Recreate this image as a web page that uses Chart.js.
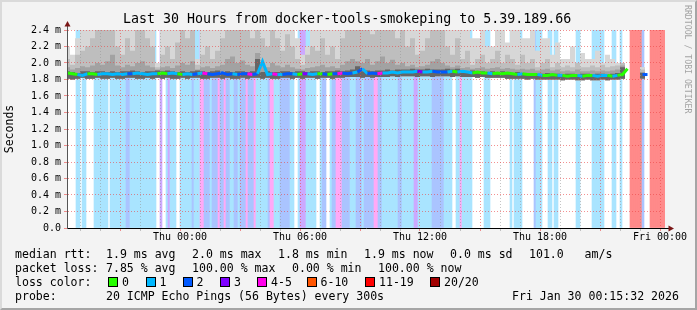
<!DOCTYPE html>
<html>
<head>
<meta charset="utf-8">
<title>smokeping</title>
<script src="https://cdn.jsdelivr.net/npm/chart.js@4.4.1/dist/chart.umd.min.js"></script>
<style>
  html, body { margin: 0; padding: 0; }
  body { width: 697px; height: 310px; background: #f3f3f3; position: relative; overflow: hidden;
         font-family: 'DejaVu Sans Mono', monospace; color: #000; }
  #wrap { position: absolute; left: 0; top: 0; width: 697px; height: 310px; }
  .frame { position: absolute; left: 0; top: 0; width: 697px; height: 310px; box-sizing: border-box;
           border: 2px solid; border-color: #dadada #a5a5a5 #a5a5a5 #dadada; pointer-events: none; }
  .title { position: absolute; left: 123px; top: 11px; font-size: 13.3px; line-height: 16px; white-space: pre; }
  .mark { position: absolute; top: 5px; left: 683px; writing-mode: vertical-rl; font-size: 8.2px;
          line-height: 10px; color: #a3a3a3; white-space: pre; }
  .txt { position: absolute; white-space: pre; font-size: 11.55px; line-height: 14px; }
  .box { position: absolute; width: 8px; height: 8px; border: 1px solid #000; top: 276.5px; }
</style>
</head>
<body>
<div id="wrap"><canvas id="myChart" width="697" height="310"></canvas></div>
<div class="frame"></div>
<div class="title">Last 30 Hours from docker-tools-smokeping to 5.39.189.66</div>
<div class="mark">RRDTOOL / TOBI OETIKER</div>
<div id="legend"></div>
<script>
// loss per 6 minute bucket, one string per 3 hours starting Wed 18:00
// . = 0, a = 1, b = 2, c = 3, d = 4-5, r = 20/20
const lossRows = [
  '........aa.aa....aaaaaaa.aaaaa',
  'aaabbaaaaaaaaaaaaa..c..acaaa..',
  'aaaaaabaaaddbbbabbbdbbdbbaabba',
  'bbbdbbbdaaaaaabddaaabbbbbaa..a',
  'cccaaaaa..abb..abbdddbbbbaaabb',
  'babbbbbddbbaaaaaaaabbaaaaaacca',
  'aaaaaabbbbbbaaaa..aadaaaaa....',
  '..aaa..........a.aaaa......baa',
  'a...aa.aa.........aa......aaaa',
  'aa....aa..a....rrrrrrb...rrrrr',
  'rrr'
];
const lossRowStart = -6;   // hours from Thu 00:00
const lossBucket = 0.1;    // hours

// smoke and median, one value per 15 minutes starting Wed 18:15 (ms)
const smokeStart = -5.75;
const smokeStep = 0.25;
const median = [
  1.88, 1.87, 1.86, 1.85, 1.87, 1.87, 1.86, 1.87, 1.87, 1.86,
  1.87, 1.86, 1.87, 1.87, 1.88, 1.87, 1.86, 1.87, 1.87, 1.88,
  1.87, 1.88, 1.87, 1.86, 1.87, 1.86, 1.87, 1.88, 1.87, 1.86,
  1.87, 1.88, 1.86, 1.87, 1.86, 1.87, 1.87, 1.86, 1.87, 2.02,
  1.86, 1.87, 1.86, 1.86, 1.87, 1.87, 1.86, 1.87, 1.87, 1.86,
  1.87, 1.87, 1.86, 1.87, 1.87, 1.88, 1.87, 1.88, 1.89, 1.93,
  1.87, 1.88, 1.87, 1.88, 1.88, 1.89, 1.88, 1.89, 1.89, 1.89,
  1.90, 1.89, 1.89, 1.90, 1.89, 1.89, 1.89, 1.90, 1.89, 1.90,
  1.89, 1.88, 1.89, 1.88, 1.88, 1.87, 1.88, 1.87, 1.88, 1.87,
  1.86, 1.87, 1.86, 1.86, 1.86, 1.85, 1.85, 1.86, 1.85, 1.85,
  1.84, 1.85, 1.85, 1.84, 1.85, 1.85, 1.84, 1.85, 1.85, 1.84,
  1.85, 1.86, 1.93, null, null, 1.86, 1.86, null, null, null
];
const smokeMax = [
  2.15, 2.2, 2.1, 2.3, 2.45, 2.5, 2.5, 2.5, 2.5, 2.5,
  2.5, 2.5, 2.5, 2.5, 2.5, 2.5, 2.5, 2.4, 2.5, 2.0,
  2.5, 2.5, 2.5, 2.5, 2.5, 2.5, 2.5, 2.05, 2.5, 2.5,
  2.5, 2.5, 2.5, 2.5, 2.5, 2.5, 2.5, 2.5, 2.5, 2.5,
  2.5, 2.5, 2.5, 2.5, 2.5, 2.5, 2.5, 2.3, 2.1, 2.2,
  2.5, 2.5, 2.5, 2.5, 2.5, 2.5, 2.5, 2.5, 2.5, 2.5,
  2.5, 2.5, 2.5, 2.5, 2.5, 2.5, 2.5, 2.5, 2.5, 2.5,
  2.5, 2.5, 2.5, 2.5, 2.5, 2.5, 2.5, 2.5, 2.5, 2.5,
  2.45, 2.4, 2.3, 2.3, 2.45, 2.2, 2.2, 2.45, 2.45, 2.25,
  2.4, 2.4, 2.3, 2.3, 2.45, 2.15, 2.3, 2.3, 2.1, 2.25,
  2.05, 2.05, 2.2, 2.0, 2.12, 2.05, 2.05, 2.15, 2.0, 2.1,
  2.05, 2.0, 2.0, null, null, 1.95, 1.95, null, null, null
];
const smokeHigh = [
  2.0, 2.05, 1.98, 2.1, 2.15, 2.2, 2.3, 2.5, 2.5, 2.5,
  2.5, 2.2, 2.1, 2.3, 2.15, 2.45, 2.45, 2.3, 2.2, 1.95,
  2.1, 2.2, 2.05, 2.25, 2.4, 2.3, 2.45, 1.98, 2.1, 2.2,
  2.05, 2.15, 2.3, 2.5, 2.5, 2.45, 2.5, 2.4, 2.3, 2.5,
  2.3, 2.2, 2.4, 2.3, 2.15, 2.35, 2.2, 2.05, 1.98, 2.1,
  2.2, 2.15, 2.3, 2.1, 2.2, 2.05, 2.3, 2.45, 2.5, 2.5,
  2.4, 2.5, 2.35, 2.45, 2.5, 2.4, 2.5, 2.3, 2.45, 2.2,
  2.3, 2.1, 2.15, 2.3, 2.45, 2.5, 2.4, 2.2, 2.1, 2.3,
  2.05, 2.15, 1.98, 2.05, 2.1, 2.0, 2.05, 2.15, 2.0, 2.1,
  2.05, 1.98, 2.1, 2.0, 2.05, 1.95, 2.0, 2.05, 1.95, 2.0,
  1.95, 1.97, 1.95, 2.0, 1.95, 1.95, 1.97, 1.95, 1.98, 1.95,
  1.96, 1.97, 2.0, null, null, 1.92, 1.92, null, null, null
];
const smokeDark = [
  1.93, 1.95, 1.92, 1.94, 1.96, 1.95, 1.97, 2.0, 1.98, 2.02,
  2.1, 1.97, 1.95, 1.98, 1.96, 2.0, 2.02, 1.97, 1.95, 1.92,
  1.95, 1.96, 1.94, 1.97, 2.0, 1.98, 2.02, 1.92, 1.95, 1.96,
  1.94, 1.96, 1.98, 2.05, 2.08, 2.0, 2.03, 1.98, 1.96, 2.12,
  1.97, 1.95, 2.0, 1.97, 1.95, 1.98, 1.95, 1.93, 1.92, 1.94,
  1.95, 1.96, 1.98, 1.95, 1.96, 1.94, 1.98, 2.02, 2.05, 2.02,
  2.0, 2.05, 1.98, 2.02, 2.08, 2.0, 2.04, 1.98, 2.0, 1.96,
  1.98, 1.95, 1.96, 1.98, 2.02, 2.05, 2.0, 1.97, 1.95, 1.97,
  1.94, 1.95, 1.93, 1.94, 1.95, 1.93, 1.94, 1.95, 1.93, 1.94,
  1.93, 1.92, 1.93, 1.92, 1.93, 1.91, 1.92, 1.93, 1.91, 1.92,
  1.9, 1.91, 1.9, 1.92, 1.9, 1.9, 1.91, 1.9, 1.91, 1.9,
  1.91, 1.92, 1.97, null, null, 1.89, 1.89, null, null, null
];
const smokeCore = [
  1.91, 1.9, 1.89, 1.88, 1.9, 1.9, 1.89, 1.9, 1.9, 1.89,
  1.9, 1.89, 1.9, 1.9, 1.91, 1.9, 1.89, 1.9, 1.9, 1.91,
  1.9, 1.91, 1.9, 1.89, 1.9, 1.89, 1.9, 1.91, 1.9, 1.89,
  1.9, 1.91, 1.89, 1.9, 1.89, 1.9, 1.9, 1.89, 1.9, 2.05,
  1.89, 1.9, 1.89, 1.89, 1.9, 1.9, 1.89, 1.9, 1.9, 1.89,
  1.9, 1.9, 1.89, 1.9, 1.9, 1.91, 1.9, 1.91, 1.92, 1.96,
  1.9, 1.91, 1.9, 1.91, 1.91, 1.92, 1.91, 1.92, 1.92, 1.92,
  1.93, 1.92, 1.92, 1.93, 1.92, 1.92, 1.92, 1.93, 1.92, 1.93,
  1.91, 1.9, 1.91, 1.9, 1.9, 1.89, 1.9, 1.89, 1.9, 1.89,
  1.88, 1.89, 1.88, 1.88, 1.88, 1.87, 1.87, 1.88, 1.87, 1.87,
  1.86, 1.87, 1.87, 1.86, 1.87, 1.87, 1.86, 1.87, 1.87, 1.86,
  1.87, 1.88, 1.95, null, null, 1.88, 1.88, null, null, null
];
const smokeMin = [
  1.82, 1.81, 1.8, 1.81, 1.82, 1.81, 1.81, 1.82, 1.81, 1.81,
  1.82, 1.81, 1.81, 1.82, 1.82, 1.81, 1.81, 1.82, 1.81, 1.82,
  1.81, 1.82, 1.81, 1.81, 1.82, 1.81, 1.82, 1.82, 1.81, 1.81,
  1.82, 1.82, 1.81, 1.82, 1.81, 1.81, 1.82, 1.81, 1.82, 1.82,
  1.81, 1.82, 1.81, 1.81, 1.82, 1.82, 1.81, 1.82, 1.81, 1.82,
  1.82, 1.81, 1.82, 1.82, 1.81, 1.82, 1.82, 1.83, 1.83, 1.83,
  1.82, 1.83, 1.82, 1.83, 1.83, 1.83, 1.84, 1.83, 1.84, 1.84,
  1.84, 1.83, 1.84, 1.84, 1.83, 1.84, 1.84, 1.84, 1.83, 1.84,
  1.83, 1.83, 1.83, 1.82, 1.83, 1.82, 1.82, 1.82, 1.82, 1.81,
  1.81, 1.81, 1.81, 1.8, 1.81, 1.8, 1.8, 1.8, 1.8, 1.8,
  1.79, 1.8, 1.8, 1.79, 1.79, 1.8, 1.79, 1.79, 1.8, 1.79,
  1.8, 1.8, 1.81, null, null, 1.81, 1.81, null, null, null
];

const xTickHours = [0, 6, 12, 18, 24];
const xTickLabels = ['Thu 00:00', 'Thu 06:00', 'Thu 12:00', 'Thu 18:00', 'Fri 00:00'];

const lossNames = ['0', '1', '2', '3', '4-5', '6-10', '11-19', '20/20'];
const lossColors = ['#26ff00', '#00b8ff', '#0059ff', '#7e00ff', '#ff00ea', '#ff5500', '#ff0000', '#a10000'];
const codeColor = { '.': '#26ff00', a: '#00b8ff', b: '#0059ff', c: '#7e00ff', d: '#ff00ea', r: '#a10000' };
const stripeColor = { a: '#a9e4ff', b: '#aac4ff', c: '#cca9ff', d: '#ffa9f6', r: '#ff8a8a' };

const statLines = [
  [[15, 'median rtt:'], [106, '1.9 ms avg'], [192, '2.0 ms max'], [278, '1.8 ms min'], [364, '1.9 ms now'], [450, '0.0 ms sd'], [529, '101.0   am/s']],
  [[15, 'packet loss:'], [106, '7.85 % avg'], [192, '100.00 % max'], [292, '0.00 % min'], [378, '100.00 % now']],
  [[15, 'loss color:']],
  [[15, 'probe:'], [106, '20 ICMP Echo Pings (56 Bytes) every 300s'], [512, 'Fri Jan 30 00:15:32 2026']]
];
const statTops = [247, 261, 275, 289];
const boxLefts = [108, 145.5, 182.5, 220, 257, 306.5, 365, 430];

// legend below the plot
const legend = document.getElementById('legend');
statLines.forEach((line, r) => {
  line.forEach(([x, s]) => {
    const d = document.createElement('div');
    d.className = 'txt';
    d.style.left = x + 'px';
    d.style.top = statTops[r] + 'px';
    d.textContent = s;
    legend.appendChild(d);
  });
});
lossNames.forEach((name, i) => {
  const b = document.createElement('div');
  b.className = 'box';
  b.style.left = boxLefts[i] + 'px';
  b.style.background = lossColors[i];
  legend.appendChild(b);
  const t = document.createElement('div');
  t.className = 'txt';
  t.style.left = (boxLefts[i] + 14) + 'px';
  t.style.top = statTops[2] + 'px';
  t.textContent = name;
  legend.appendChild(t);
});

function lossAt(h) {
  const off = h - lossRowStart;
  const r = Math.floor(off / 3);
  const i = Math.floor((off - r * 3) / lossBucket + 1e-6);
  const row = lossRows[r] || '';
  return row[i] || '.';
}

const stripeData = [];
const stripeColors = [];
lossRows.forEach((row, r) => {
  row.split('').forEach((c, i) => {
    const x = lossRowStart + r * 3 + (i + 0.5) * lossBucket;
    stripeData.push({ x: x, y: c === '.' ? null : 2.4 });
    stripeColors.push(stripeColor[c] || 'rgba(0,0,0,0)');
  });
});

const toPoints = (arr, shift) => arr.map((v, k) => ({ x: smokeStart + smokeStep * k + shift, y: v }));

const majorGrid = 'rgba(235,70,70,0.6)';
const minorGrid = 'rgba(150,150,150,0.55)';

const plotBackground = {
  id: 'plotBackground',
  beforeDraw(chart) {
    const { ctx, chartArea: a } = chart;
    ctx.save();
    ctx.fillStyle = '#ffffff';
    ctx.fillRect(a.left, a.top, a.right - a.left, a.bottom - a.top);
    ctx.restore();
  }
};

const axisArrows = {
  id: 'axisArrows',
  afterDraw(chart) {
    const { ctx, chartArea: a } = chart;
    ctx.save();
    ctx.strokeStyle = '#555';
    ctx.lineWidth = 1;
    ctx.beginPath();
    ctx.moveTo(a.left + 0.5, a.top);
    ctx.lineTo(a.left + 0.5, a.top - 5);
    ctx.stroke();
    ctx.strokeStyle = '#000';
    ctx.beginPath();
    ctx.moveTo(a.right, a.bottom + 0.5);
    ctx.lineTo(a.right + 4, a.bottom + 0.5);
    ctx.stroke();
    ctx.fillStyle = '#7a1616';
    ctx.beginPath();
    ctx.moveTo(a.left + 0.5, a.top - 9);
    ctx.lineTo(a.left - 2.5, a.top - 3.5);
    ctx.lineTo(a.left + 3.5, a.top - 3.5);
    ctx.closePath();
    ctx.fill();
    ctx.beginPath();
    ctx.moveTo(a.right + 9, a.bottom + 0.5);
    ctx.lineTo(a.right + 3.5, a.bottom - 2.5);
    ctx.lineTo(a.right + 3.5, a.bottom + 3.5);
    ctx.closePath();
    ctx.fill();
    ctx.restore();
  }
};

Chart.defaults.font.family = "'DejaVu Sans Mono', monospace";
Chart.defaults.color = '#000';

const smokeLayer = (label, arr, color, order) => ({
  type: 'line',
  label: label,
  data: toPoints(arr, 0),
  stepped: 'after',
  borderWidth: 0,
  pointRadius: 0,
  backgroundColor: color,
  fill: 5,
  order: order
});

const ctx = document.getElementById('myChart');

new Chart(ctx, {
  data: {
    datasets: [
      {
        type: 'line',
        label: 'median rtt',
        data: toPoints(median, smokeStep / 2),
        borderWidth: 3,
        pointRadius: 0,
        spanGaps: false,
        fill: false,
        borderColor: '#26ff00',
        segment: { borderColor: (c) => codeColor[lossAt(c.p0.parsed.x)] },
        order: 0
      },
      smokeLayer('smoke core', smokeCore, '#666666', 4),
      smokeLayer('smoke dark', smokeDark, '#a2a2a2', 5),
      smokeLayer('smoke high', smokeHigh, '#bebebe', 6),
      smokeLayer('smoke max', smokeMax, '#d7d7d7', 7),
      {
        type: 'line',
        label: 'smoke min',
        data: toPoints(smokeMin, 0),
        stepped: 'after',
        borderWidth: 0,
        pointRadius: 0,
        fill: false,
        order: 8
      },
      {
        type: 'bar',
        label: 'loss',
        data: stripeData,
        backgroundColor: stripeColors,
        borderWidth: 0,
        barPercentage: 1,
        categoryPercentage: 1,
        grouped: false,
        order: 9
      }
    ]
  },
  options: {
    responsive: false,
    animation: false,
    events: [],
    layout: { padding: { left: 0, top: 30, right: 32, bottom: 0 } },
    plugins: {
      legend: { display: false },
      tooltip: { enabled: false },
      filler: { drawTime: 'beforeDatasetDraw' }
    },
    scales: {
      x: {
        type: 'linear',
        min: -5.65,
        max: 24.25,
        offset: false,
        afterFit(s) { s.height = 82; s.paddingLeft = 0; s.paddingRight = 0; },
        afterBuildTicks(s) {
          s.ticks = [];
          for (let h = -5; h <= 24; h++) s.ticks.push({ value: h });
        },
        ticks: {
          autoSkip: false,
          maxRotation: 0,
          padding: 0,
          font: { size: 10 },
          callback: (v) => {
            const i = xTickHours.indexOf(v);
            return i >= 0 ? xTickLabels[i] : '';
          }
        },
        grid: {
          z: 1,
          offset: false,
          tickLength: 3,
          color: (c) => (c.tick && c.tick.value % 3 === 0 ? majorGrid : minorGrid)
        },
        border: { z: 2, color: '#000', width: 1, dash: [1, 2] }
      },
      y: {
        type: 'linear',
        min: 0,
        max: 2.4,
        afterFit(s) { s.width = 67; s.paddingTop = 0; s.paddingBottom = 0; },
        afterBuildTicks(s) {
          s.ticks = [];
          for (let i = 0; i <= 24; i++) s.ticks.push({ value: i / 10 });
        },
        ticks: {
          padding: 3,
          font: { size: 10 },
          callback: (v) => {
            const t = Math.round(v * 10);
            if (t % 2) return '';
            return t === 0 ? '0.0' : (t / 10).toFixed(1) + ' m';
          }
        },
        grid: {
          z: 1,
          tickLength: 3,
          color: (c) => (c.tick && Math.round(c.tick.value * 10) % 2 === 0 ? majorGrid : minorGrid)
        },
        border: { z: 2, color: '#555', width: 1, dash: [1, 2] },
        title: {
          display: true,
          text: 'Seconds',
          color: '#000',
          font: { size: 11.5 },
          padding: { top: 3, bottom: 0 }
        }
      }
    }
  },
  plugins: [plotBackground, axisArrows]
});
</script>
</body>
</html>
